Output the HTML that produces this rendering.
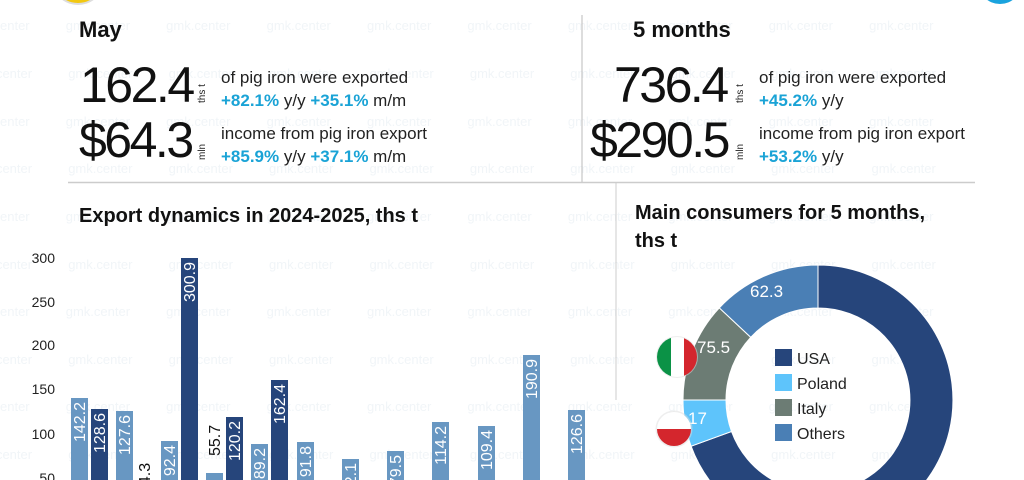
<!DOCTYPE html>
<html><head><meta charset="utf-8"><style>
html,body{margin:0;padding:0;background:#fff;width:1024px;height:480px;overflow:hidden;}
svg{display:block;font-family:"Liberation Sans",sans-serif;}
.wm text{white-space:pre;}
</style></head><body>
<svg width="1024" height="480" viewBox="0 0 1024 480" xmlns="http://www.w3.org/2000/svg">
<defs>
<linearGradient id="gl" x1="0" x2="1" y1="0" y2="0">
<stop offset="0" stop-color="#999"/><stop offset="0.7" stop-color="#ccc"/><stop offset="1" stop-color="#fff"/>
</linearGradient>
<clipPath id="cc"><rect x="0" y="0" width="1024" height="480"/></clipPath>
</defs>
<rect width="1024" height="480" fill="#fff"/>
<!-- watermark -->
<g class="wm" font-size="13" fill="#f1f5f8" xml:space="preserve">
<text x="0" y="30">enter          gmk.center          gmk.center          gmk.center          gmk.center          gmk.center          gmk.center          gmk.center          gmk.center          gmk.center</text>
<text x="-25" y="78">mk.center          gmk.center          gmk.center          gmk.center          gmk.center          gmk.center          gmk.center          gmk.center          gmk.center          gmk.center</text>
<text x="0" y="126">enter          gmk.center          gmk.center          gmk.center          gmk.center          gmk.center          gmk.center          gmk.center          gmk.center          gmk.center</text>
<text x="-25" y="173">mk.center          gmk.center          gmk.center          gmk.center          gmk.center          gmk.center          gmk.center          gmk.center          gmk.center          gmk.center</text>
<text x="0" y="221">enter          gmk.center          gmk.center          gmk.center          gmk.center          gmk.center          gmk.center          gmk.center          gmk.center          gmk.center</text>
<text x="-25" y="269">mk.center          gmk.center          gmk.center          gmk.center          gmk.center          gmk.center          gmk.center          gmk.center          gmk.center          gmk.center</text>
<text x="0" y="316">enter          gmk.center          gmk.center          gmk.center          gmk.center          gmk.center          gmk.center          gmk.center          gmk.center          gmk.center</text>
<text x="-25" y="364">mk.center          gmk.center          gmk.center          gmk.center          gmk.center          gmk.center          gmk.center          gmk.center          gmk.center          gmk.center</text>
<text x="0" y="411">enter          gmk.center          gmk.center          gmk.center          gmk.center          gmk.center          gmk.center          gmk.center          gmk.center          gmk.center</text>
<text x="-25" y="459">mk.center          gmk.center          gmk.center          gmk.center          gmk.center          gmk.center          gmk.center          gmk.center          gmk.center          gmk.center</text>
</g>
<!-- top circles -->
<circle cx="78" cy="-22" r="26" fill="#f2c811" stroke="#ddd" stroke-width="2"/>
<circle cx="1000" cy="-18" r="22" fill="#1aa3de"/>
<!-- dividers -->
<line x1="582" y1="15" x2="582" y2="182" stroke="#bbb" stroke-width="1"/>
<line x1="68" y1="182.5" x2="975" y2="182.5" stroke="#ccc" stroke-width="1.5"/>
<line x1="616" y1="183" x2="616" y2="400" stroke="#ccc" stroke-width="1"/>
<!-- Left header -->
<text x="79" y="37" font-size="22" font-weight="bold" fill="#111">May</text>
<text x="80" y="102" font-size="50" fill="#111" letter-spacing="-2.5">162.4</text>
<text transform="translate(205,103) rotate(-90)" font-size="10" fill="#222">ths t</text>
<text x="221" y="83" font-size="17" fill="#222">of pig iron were exported</text>
<text x="221" y="106" font-size="17" fill="#222"><tspan fill="#1aa3d6" font-weight="bold">+82.1%</tspan> y/y  <tspan fill="#1aa3d6" font-weight="bold">+35.1%</tspan> m/m</text>
<text x="79" y="157" font-size="50" fill="#111" letter-spacing="-2.5">$64.3</text>
<text transform="translate(205,160) rotate(-90)" font-size="10" fill="#222">mln</text>
<text x="221" y="139" font-size="17" fill="#222">income from pig iron export</text>
<text x="221" y="162" font-size="17" fill="#222"><tspan fill="#1aa3d6" font-weight="bold">+85.9%</tspan> y/y  <tspan fill="#1aa3d6" font-weight="bold">+37.1%</tspan> m/m</text>
<!-- Right header -->
<text x="633" y="37" font-size="22" font-weight="bold" fill="#111">5 months</text>
<text x="614" y="102" font-size="50" fill="#111" letter-spacing="-2.5">736.4</text>
<text transform="translate(743,103) rotate(-90)" font-size="10" fill="#222">ths t</text>
<text x="759" y="83" font-size="17" fill="#222">of pig iron were exported</text>
<text x="759" y="106" font-size="17" fill="#222"><tspan fill="#1aa3d6" font-weight="bold">+45.2%</tspan> y/y</text>
<text x="590" y="157" font-size="50" fill="#111" letter-spacing="-2.5">$290.5</text>
<text transform="translate(743,160) rotate(-90)" font-size="10" fill="#222">mln</text>
<text x="759" y="139" font-size="17" fill="#222">income from pig iron export</text>
<text x="759" y="162" font-size="17" fill="#222"><tspan fill="#1aa3d6" font-weight="bold">+53.2%</tspan> y/y</text>
<!-- Bar chart -->
<text x="79" y="222" font-size="20" font-weight="bold" fill="#111">Export dynamics in 2024-2025, ths t</text>
<g font-size="14" fill="#222" text-anchor="end">
<text x="55" y="263">300</text><text x="55" y="307">250</text><text x="55" y="350">200</text>
<text x="55" y="394">150</text><text x="55" y="439">100</text><text x="55" y="483">50</text>
</g>
<g stroke="url(#gl)" stroke-width="1.2">
<line x1="65" y1="258" x2="590" y2="258"/><line x1="65" y1="302" x2="590" y2="302"/>
<line x1="65" y1="345" x2="590" y2="345"/><line x1="65" y1="389" x2="590" y2="389"/>
<line x1="65" y1="434" x2="590" y2="434"/><line x1="65" y1="478" x2="590" y2="478"/>
</g>
<g clip-path="url(#cc)">
<g fill="#6897c2">
<rect x="71" y="398" width="17" height="90"/>
<rect x="116" y="411" width="17" height="80"/>
<rect x="161" y="441" width="17" height="50"/>
<rect x="206" y="473" width="17" height="20"/>
<rect x="251" y="444" width="17" height="50"/>
<rect x="297" y="442" width="17" height="50"/>
<rect x="342" y="459" width="17" height="30"/>
<rect x="387" y="451" width="17" height="30"/>
<rect x="432" y="422" width="17" height="60"/>
<rect x="478" y="426" width="17" height="60"/>
<rect x="523" y="355" width="17" height="130"/>
<rect x="568" y="410" width="17" height="80"/>
</g>
<g fill="#26457b">
<rect x="91" y="409" width="17" height="80"/>
<rect x="136" y="483" width="17" height="10"/>
<rect x="181" y="258" width="17" height="230"/>
<rect x="226" y="417" width="17" height="70"/>
<rect x="271" y="380" width="17" height="110"/>
</g>
<g font-size="16" fill="#fff" text-anchor="end">
<text transform="translate(85,402) rotate(-90)">142.2</text>
<text transform="translate(105,413) rotate(-90)">128.6</text>
<text transform="translate(130,415) rotate(-90)">127.6</text>
<text transform="translate(175,445) rotate(-90)">92.4</text>
<text transform="translate(195,262) rotate(-90)">300.9</text>
<text transform="translate(240,421) rotate(-90)">120.2</text>
<text transform="translate(265,448) rotate(-90)">89.2</text>
<text transform="translate(285,384) rotate(-90)">162.4</text>
<text transform="translate(311,446) rotate(-90)">91.8</text>
<text transform="translate(356,463) rotate(-90)">72.1</text>
<text transform="translate(401,455) rotate(-90)">79.5</text>
<text transform="translate(446,426) rotate(-90)">114.2</text>
<text transform="translate(492,430) rotate(-90)">109.4</text>
<text transform="translate(537,359) rotate(-90)">190.9</text>
<text transform="translate(582,414) rotate(-90)">126.6</text>
</g>
<g font-size="16" fill="#111" text-anchor="start">
<text transform="translate(150,494) rotate(-90)">44.3</text>
<text transform="translate(220,456) rotate(-90)">55.7</text>
</g>
</g>
<!-- Donut -->
<text x="635" y="219" font-size="20" font-weight="bold" fill="#111">Main consumers for 5 months,</text>
<text x="635" y="247" font-size="20" font-weight="bold" fill="#111">ths t</text>
<g stroke="#fff" stroke-width="1">
<path d="M818,265 A135,135 0 1 1 691.1,446.2 L731.5,431.5 A92,92 0 1 0 818,308 Z" fill="#26457b"/>
<path d="M691.1,446.2 A135,135 0 0 1 683,400 L726,400 A92,92 0 0 0 731.5,431.5 Z" fill="#5ec4fb"/>
<path d="M683,400 A135,135 0 0 1 719.3,307.9 L750.7,337.3 A92,92 0 0 0 726,400 Z" fill="#6c7c74"/>
<path d="M719.3,307.9 A135,135 0 0 1 818,265 L818,308 A92,92 0 0 0 750.7,337.3 Z" fill="#4a7fb5"/>
</g>
<g font-size="17" fill="#fff">
<text x="750" y="297">62.3</text>
<text x="697" y="353">75.5</text>
<text x="688" y="424">17</text>
</g>
<!-- flags -->
<g>
<circle cx="677" cy="357" r="21" fill="#ddd" opacity="0.5"/>
<clipPath id="it"><circle cx="677" cy="357" r="20"/></clipPath>
<g clip-path="url(#it)">
<rect x="657" y="337" width="14" height="40" fill="#0b9246"/>
<rect x="671" y="337" width="13" height="40" fill="#fff"/>
<rect x="684" y="337" width="14" height="40" fill="#d4262d"/>
</g>
<clipPath id="pl"><circle cx="674" cy="429" r="17"/></clipPath>
<circle cx="674" cy="429" r="18.5" fill="#ddd" opacity="0.5"/>
<g clip-path="url(#pl)">
<rect x="656" y="411" width="36" height="18" fill="#fff"/>
<rect x="656" y="429" width="36" height="18" fill="#d4262d"/>
</g>
</g>
<!-- legend -->
<rect x="775" y="349" width="17" height="17" fill="#26457b"/>
<rect x="775" y="374" width="17" height="17" fill="#5ec4fb"/>
<rect x="775" y="399" width="17" height="17" fill="#6c7c74"/>
<rect x="775" y="424" width="17" height="17" fill="#4a7fb5"/>
<g font-size="16" fill="#222">
<text x="797" y="364">USA</text>
<text x="797" y="389">Poland</text>
<text x="797" y="414">Italy</text>
<text x="797" y="439">Others</text>
</g>
</svg>
</body></html>
